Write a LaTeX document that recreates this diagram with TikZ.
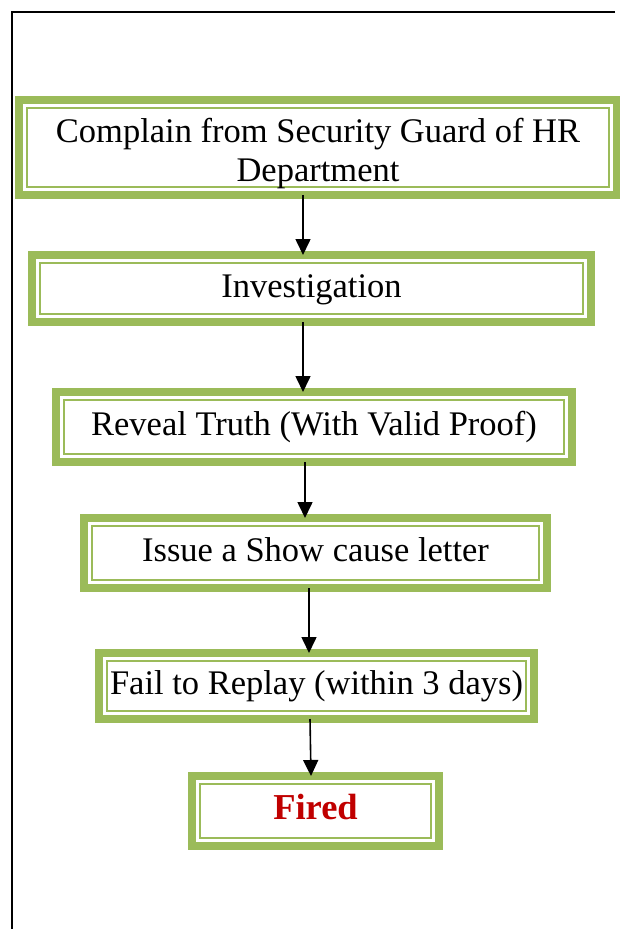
\documentclass[tikz,border=0pt]{standalone}
\usepackage{fontspec}
\setmainfont{Liberation Serif}
\usetikzlibrary{arrows.meta}
\definecolor{boxgreen}{HTML}{9BBB59}
\definecolor{firedred}{HTML}{C00000}
\tikzset{
  stepbox/.style={draw=boxgreen, line width=8pt, outer sep=0pt, inner sep=2pt,
    font=\fontsize{34.5}{39}\selectfont, align=center,
    path picture={\draw[boxgreen, line width=2.5pt]
      ([shift={(8pt,8pt)}]path picture bounding box.south west) rectangle
      ([shift={(-8pt,-8pt)}]path picture bounding box.north east);}},
  oneline/.style={text height=25pt, text depth=8pt},
  flow/.style={->, line width=1.6pt},
}

\begin{document}
\begin{tikzpicture}[x=1pt, y=-1pt, >={Triangle[length=16pt,width=15pt]}]
  \useasboundingbox (0,0) rectangle (620,929);
  % page frame
  \draw[line width=2pt] (615,12) -- (11.5,12) -- (11.5,929);
  \node[stepbox, minimum width=598pt, minimum height=95pt] (complain) at (318,147.5)
    {\rule{0pt}{36.5pt}Complain from Security Guard of HR\\Department};
  \node[stepbox, oneline, minimum width=559pt, minimum height=67pt] (invest) at (311.5,288.5)
    {Investigation};
  \node[stepbox, oneline, minimum width=516pt, minimum height=70pt] (reveal) at (314,427)
    {Reveal Truth (With Valid Proof)};
  \node[stepbox, oneline, minimum width=463pt, minimum height=70pt] (issue) at (315.5,553)
    {Issue a Show cause letter};
  \node[stepbox, oneline, minimum width=435pt, minimum height=66pt] (fail) at (316.5,686)
    {Fail to Replay (within 3 days)};
  \node[stepbox, oneline, minimum width=247pt, minimum height=70pt,
    font=\fontsize{36.5}{40}\selectfont\bfseries, text=firedred] (fired) at (315.5,811)
    {Fired};
  % arrows
  \draw[flow] ([xshift=-15pt]complain.south) -- ([xshift=-15pt]complain.south |- invest.north);
  \draw[flow] ([xshift=-8.5pt]invest.south) -- ([xshift=-8.5pt]invest.south |- reveal.north);
  \draw[flow] ([xshift=-9pt]reveal.south) -- ([xshift=-9pt]reveal.south |- issue.north);
  \draw[flow] ([xshift=-6.5pt]issue.south) -- ([xshift=-6.5pt]issue.south |- fail.north);
  \draw[flow] ([xshift=-6.5pt]fail.south) -- ([xshift=-5.5pt]fail.south |- fired.north);
\end{tikzpicture}
\end{document}
